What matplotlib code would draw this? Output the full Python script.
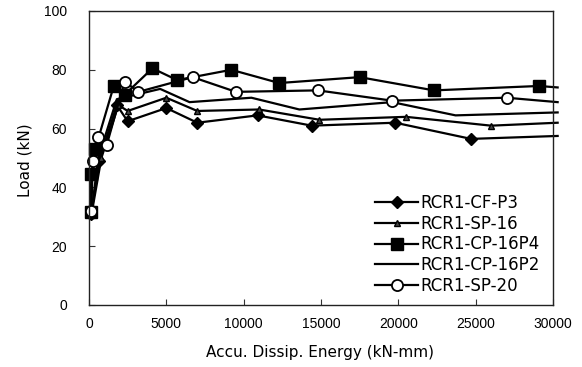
import matplotlib
matplotlib.use('Agg')
import matplotlib.pyplot as plt

# ---- data ----
cf_x = [150, 650, 1800, 2500, 5000, 7000, 10900, 14400, 19800, 24700, 30300]
cf_y = [31, 49, 68, 62.5, 67, 62, 64.5, 61, 62, 56.5, 57.5]

sp16_x = [150, 800, 1900, 2500, 5000, 7000, 11000, 14900, 20500, 26000, 30300]
sp16_y = [30.5, 50, 68, 66, 70.5, 66, 66.5, 63, 64, 61, 62]

p4_x = [100, 150, 400, 1600, 2300, 4100, 5700, 9200, 12300, 17500, 22300, 29100, 30300]
p4_y = [31.5, 44.5, 53, 74.5, 71.5, 80.5, 76.5, 80, 75.5, 77.5, 73, 74.5, 74]

p2_x = [150, 600, 1800, 4600, 6500, 10500, 13600, 19600, 23700, 30300]
p2_y = [31, 50, 70, 73.5, 69, 70.5, 66.5, 69, 64.5, 65.5]

sp20_x = [150, 250, 550, 1150, 2300, 3200, 6700, 9500, 14800, 19600, 27000, 30300]
sp20_y = [32, 49, 57, 54.5, 76, 72.5, 77.5, 72.5, 73, 69.5, 70.5, 69]

labels = ["RCR1-CF-P3", "RCR1-SP-16", "RCR1-CP-16P4", "RCR1-CP-16P2", "RCR1-SP-20"]
xticks = [0, 5000, 10000, 15000, 20000, 25000, 30000]
yticks = [0, 20, 40, 60, 80, 100]

W, H = 582, 367
fig = plt.figure(figsize=(W / 100, H / 100), dpi=100)
L, R, T, B = 89, 553, 11, 305
ax = fig.add_axes([L / W, 1 - B / H, (R - L) / W, (B - T) / H])
ax.set_xlim(0, 30000)
ax.set_ylim(0, 100)

tickfont = dict(family=['Liberation Sans', 'DejaVu Sans'], size=10)
ax.set_xticks(xticks)
ax.set_yticks(yticks)
ax.set_xticklabels([str(t) for t in xticks], fontdict=tickfont)
ax.set_yticklabels([str(t) for t in yticks], fontdict=tickfont)
ax.tick_params(axis='both', direction='in', length=4, width=0.8, color='#333333')
ax.tick_params(axis='x', pad=9)
ax.tick_params(axis='y', pad=16)
for s in ax.spines.values():
    s.set_linewidth(1.0)
    s.set_color('#222222')

lw = 1.6
common = dict(color='black', linewidth=lw, clip_on=False)
ax.plot(cf_x, cf_y, marker='D', markersize=6, markerfacecolor='black',
        markeredgecolor='black', markevery=list(range(len(cf_x) - 1)), label=labels[0], **common)
ax.plot(sp16_x, sp16_y, marker='^', markersize=5, markerfacecolor='#444444',
        markeredgecolor='black', markevery=list(range(len(sp16_x) - 1)), label=labels[1], **common)
ax.plot(p4_x, p4_y, marker='s', markersize=9, markerfacecolor='black',
        markeredgecolor='black', markevery=list(range(len(p4_x) - 1)), label=labels[2], **common)
ax.plot(p2_x, p2_y, label=labels[3], **common)
ax.plot(sp20_x, sp20_y, marker='o', markersize=8, markerfacecolor='white',
        markeredgecolor='black', markeredgewidth=1.3, markevery=list(range(len(sp20_x) - 1)),
        label=labels[4], **common)

leg = ax.legend(loc='upper left', bbox_to_anchor=(375 / W, 1 - 194 / H),
                bbox_transform=fig.transFigure, frameon=False,
                borderpad=0, borderaxespad=0, handlelength=2.6, handletextpad=0.15,
                labelspacing=0.16, prop=dict(family='DejaVu Sans', size=12))

fig.text(25 / W, 1 - 160 / H, "Load (kN)", rotation=90, ha='center', va='center',
         fontsize=11, family='DejaVu Sans')
fig.text(320 / W, 1 - 352 / H, "Accu. Dissip. Energy (kN-mm)", ha='center', va='center',
         fontsize=11, family='DejaVu Sans')

fig.savefig('out.png', dpi=100)
